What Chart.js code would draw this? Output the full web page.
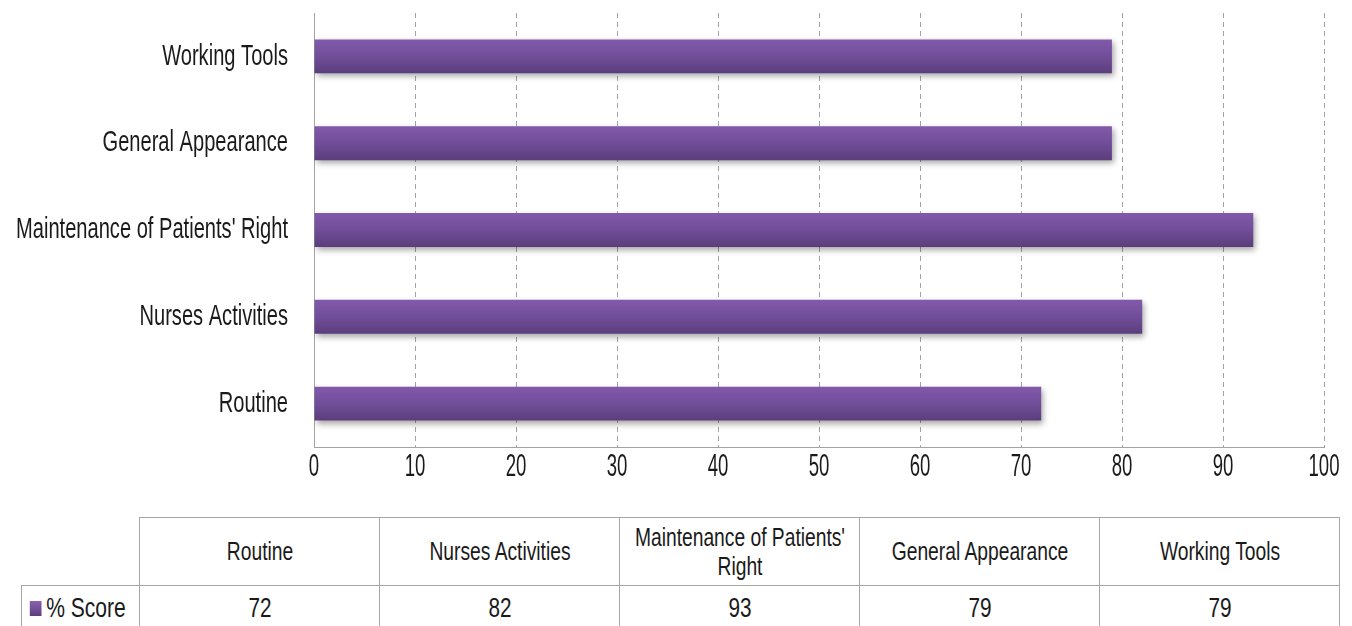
<!DOCTYPE html>
<html>
<head>
<meta charset="utf-8">
<script src="https://cdn.jsdelivr.net/npm/chart.js@4/dist/chart.umd.min.js"></script>
<style>
  html, body { margin: 0; padding: 0; background: #fff; }
  body { width: 1352px; height: 626px; position: relative; overflow: hidden; font-family: "Liberation Sans", Arial, sans-serif; color: #1a1a1a; }
  #chart-wrap { position: absolute; left: 0; top: 0; width: 1352px; height: 500px; }
  #data-table { position: absolute; left: 21px; top: 517px; width: 1319px; border-collapse: collapse; table-layout: fixed; }
  #data-table td { border: 1px solid #a6a6a6; text-align: center; padding: 0; overflow: visible; }
  #data-table tr.head td { height: 67px; font-size: 26px; line-height: 29px; }
  #data-table tr.vals td { height: 44px; font-size: 28px; }
  #data-table tr.head td.corner { border-top: none; border-left: none; }
  /* narrow face: squeeze a regular font horizontally */
  .nar { display: block; width: 320px; margin: 0 -40px; transform: scaleX(0.74); transform-origin: 50% 50%; }
  .series .nar { width: auto; margin: 0; transform: scaleX(0.78); transform-origin: 0 50%; white-space: nowrap; text-align: left; padding-left: 10px; font-size: 27px; }
  .swatch { display: inline-block; width: 15px; height: 15px; margin-right: 6px; vertical-align: 1px; background: linear-gradient(#8a63b3, #5c3d7d); }
</style>
</head>
<body>
<div id="chart-wrap"><canvas id="chart-score"></canvas></div>
<table id="data-table"></table>

<script>
// ── Data ──────────────────────────────────────────────────────────────────────
const categories = ["Routine", "Nurses Activities", "Maintenance of Patients' Right", "General Appearance", "Working Tools"];
const scores = [72, 82, 93, 79, 79];
const seriesName = "% Score";
const xTicks = [0, 10, 20, 30, 40, 50, 60, 70, 80, 90, 100];

const FONT = "'Liberation Sans', Arial, sans-serif";
const TEXT = "#1a1a1a";

// draw text squeezed horizontally (the original uses a very narrow face)
function narrowText(ctx, text, x, y, size, sx, align) {
  ctx.save();
  ctx.font = `${size}px ${FONT}`;
  ctx.fillStyle = TEXT;
  ctx.textAlign = align;
  ctx.textBaseline = "middle";
  ctx.translate(x, y);
  ctx.scale(sx, 1);
  ctx.fillText(text, 0, 0);
  ctx.restore();
}

// bar gradient + soft drop shadow
const barStyle = {
  id: "barStyle",
  beforeDatasetsDraw(chart) {
    const ctx = chart.ctx;
    const meta = chart.getDatasetMeta(0);
    meta.data.forEach((bar) => {
      const top = bar.y - bar.height / 2;
      const g = ctx.createLinearGradient(0, top, 0, top + bar.height);
      g.addColorStop(0, "#8259aa");
      g.addColorStop(0.5, "#714e99");
      g.addColorStop(1, "#5b3d7c");
      bar.options = Object.assign({}, bar.options, { backgroundColor: g });
    });
    ctx.save();
    ctx.shadowColor = "rgba(0,0,0,0.35)";
    ctx.shadowBlur = 6;
    ctx.shadowOffsetX = 2;
    ctx.shadowOffsetY = 3;
  },
  afterDatasetsDraw(chart) {
    chart.ctx.restore();
  },
};

// axis labels, positioned by the chart's own scales
const axisLabels = {
  id: "axisLabels",
  afterDraw(chart) {
    const ctx = chart.ctx;
    const xs = chart.scales.x;
    const ys = chart.scales.y;
    xTicks.forEach((v) => {
      narrowText(ctx, String(v), xs.getPixelForValue(v), xs.bottom - xs.height + 20, 31, 0.6, "center");
    });
    categories.forEach((c, i) => {
      narrowText(ctx, c, ys.right - 26, ys.getPixelForValue(i), 30, 0.67, "right");
    });
  },
};

new Chart(document.getElementById("chart-score"), {
  type: "bar",
  data: {
    labels: categories,
    datasets: [
      {
        label: seriesName,
        data: scores,
        backgroundColor: "#714e99",
        borderWidth: 0,
        categoryPercentage: 1,
        barPercentage: 0.39,
      },
    ],
  },
  options: {
    indexAxis: "y",
    responsive: true,
    maintainAspectRatio: false,
    animation: false,
    layout: { padding: { top: 13, right: 28, left: 0, bottom: 0 } },
    plugins: {
      legend: { display: false },
      tooltip: { enabled: false },
    },
    scales: {
      x: {
        min: 0,
        max: 100,
        afterBuildTicks: (scale) => {
          scale.ticks = xTicks.map((v) => ({ value: v }));
        },
        afterFit: (scale) => {
          scale.height = 53;
        },
        grid: { color: "#a3a3a3", drawTicks: false, lineWidth: 1 },
        border: { color: "#a3a3a3", width: 1, dash: [5, 4] },
        ticks: { display: false },
      },
      y: {
        reverse: true,
        afterFit: (scale) => {
          scale.width = 314;
        },
        grid: { display: false, drawTicks: false },
        border: { display: true, color: "#a3a3a3", width: 1 },
        ticks: { display: false },
      },
    },
  },
  plugins: [barStyle, axisLabels],
});

// ── Data table under the chart ───────────────────────────────────────────────
function renderTable() {
  const table = document.getElementById("data-table");
  const cols = `<col style="width:118px">` + categories.map(() => `<col style="width:240px">`).join("");
  const head = `<tr class="head"><td class="corner"></td>${categories.map((c) => `<td><span class="nar">${c}</span></td>`).join("")}</tr>`;
  const vals = `<tr class="vals"><td class="series"><span class="nar"><span class="swatch"></span>${seriesName}</span></td>${scores.map((v) => `<td><span class="nar">${v}</span></td>`).join("")}</tr>`;
  table.innerHTML = cols + head + vals;
}

renderTable();
</script>
</body>
</html>
